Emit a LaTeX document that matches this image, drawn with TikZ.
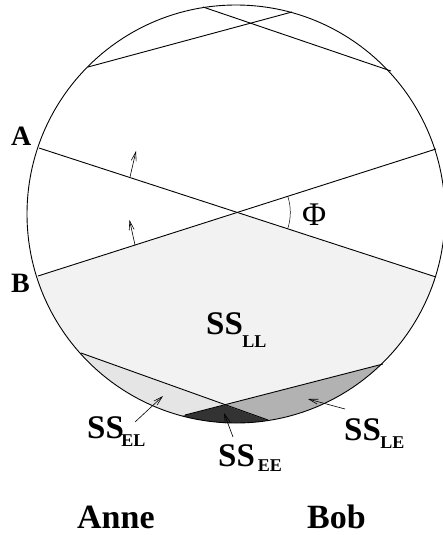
\documentclass[tikz,border=0pt]{standalone}
\usepackage{fontspec}
\setmainfont{Liberation Serif}
\usetikzlibrary{arrows.meta}
\newcommand\sublabfont{\fontsize{18}{18}\selectfont\bfseries}
\newcommand\sslabel[3]{SS\kern#1pt\raisebox{-#2pt}{\sublabfont #3}}
\begin{document}
\begin{tikzpicture}[x=1pt,y=-1pt,
  bound/.style={line width=0.9pt},
  pointer/.style={line width=0.6pt,-{Straight Barb[length=9pt,width=5pt]}},
  big/.style={font=\fontsize{33}{33}\selectfont\bfseries, inner sep=0pt, anchor=base west},
  personlab/.style={font=\fontsize{34}{34}\selectfont\bfseries, inner sep=0pt, text depth=0pt, anchor=base west},
  side/.style={font=\fontsize{28}{28}\selectfont\bfseries, inner sep=0pt, anchor=base west},
  philab/.style={font=\fontsize{33}{33}\selectfont, inner sep=0pt, anchor=base west}
]
\useasboundingbox (0,0) rectangle (443,535);
\coordinate (C) at (236,214);
% line end points
\coordinate (T1a) at (88,67);   \coordinate (T1b) at (292,12);
\coordinate (T2a) at (203,7);   \coordinate (T2b) at (391,71);
\coordinate (Aa) at (39,148);   \coordinate (Ab) at (436,277);
\coordinate (Ba) at (38,276);   \coordinate (Bb) at (436,149);
\coordinate (X) at (237.3,212.4);
\coordinate (L1a) at (81,353);  \coordinate (L1b) at (268,420);
\coordinate (L2a) at (383,364); \coordinate (L2b) at (185,415);
\coordinate (Y) at (225,405);
% shaded regions
\begin{scope}
  \clip (C) circle[radius=209pt];
  \fill[black!5] (10,284.9) -- (X) -- (460,284.8) -- (460,344.2) -- (Y) -- (0,324) -- cycle;
  \fill[black!10] (0,324) -- (Y) -- (0,462.7) -- cycle;
  \fill[black!80] (Y) -- (100,436.9) -- (100,500) -- (350,500) -- (350,449.3) -- cycle;
  \fill[black!30] (Y) -- (460,344.2) -- (460,488.7) -- cycle;
\end{scope}
% lines
\draw[bound] (T1a) -- (T1b);
\draw[bound] (T2a) -- (T2b);
\draw[bound] (Aa) -- (Ab);
\draw[bound] (Ba) -- (Bb);
\draw[bound] (L1a) -- (L1b);
\draw[bound] (L2a) -- (L2b);
\draw[bound] (C) circle[radius=209pt];
% angle
\draw[line width=0.5pt] (X) ++(18:53) arc[start angle=18, end angle=-17.7, radius=53];
% small arrows
\coordinate (p1) at (130,177); \coordinate (q1) at (136,151);
\coordinate (p2) at (135,245); \coordinate (q2) at (129.5,220);
\draw[pointer] (p1) -- (q1);
\draw[pointer] (p2) -- (q2);
% labels
\node[side] (labA) at (11,145) {A};
\node[side] (labB) at (11,292) {B};
\node[philab] (phi) at (302,225) {Φ};
\node[big] (sll) at (206,334) {\sslabel{-0.5}{13}{LL}};
\node[big] (sel) at (87,438) {\sslabel{-2.5}{8}{EL}};
\node[big] (see) at (218,466) {\sslabel{3}{5}{EE}};
\node[big] (sle) at (344,440) {\sslabel{-0.5}{8}{LE}};
\node[personlab] (anne) at (77,528) {Anne};
\node[personlab] (bob) at (307,528) {Bob};
% label pointers
\coordinate (elt) at (163,396); \coordinate (els) at (135,422);
\coordinate (eet) at (224,413); \coordinate (ees) at (233,437);
\coordinate (let) at (308,399); \coordinate (les) at (345,409);
\draw[pointer] (els) -- (elt);
\draw[pointer] (ees) -- (eet);
\draw[pointer] (les) -- (let);
\end{tikzpicture}
\end{document}
